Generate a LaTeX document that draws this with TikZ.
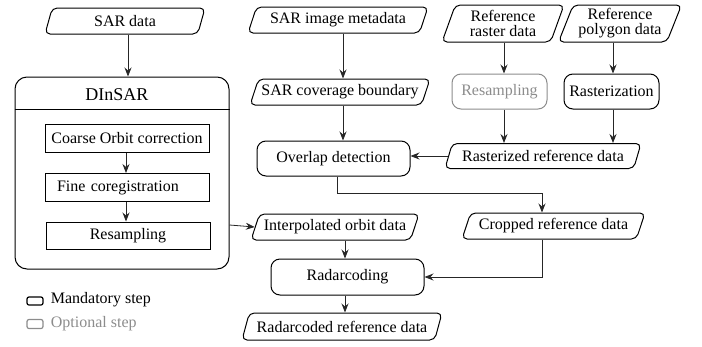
\documentclass[tikz,border=0pt]{standalone}
\usepackage{fontspec}
\setmainfont{Liberation Serif}
\usetikzlibrary{shapes.geometric,arrows.meta}
\definecolor{optgray}{RGB}{140,140,140}
\tikzset{
  data/.style={draw, trapezium, trapezium left angle=68, trapezium right angle=112,
    trapezium stretches body, rounded corners=5pt, minimum height=26pt, inner xsep=2pt},
  stepbox/.style={draw, rounded corners=9pt, minimum width=153pt, minimum height=35pt},
  optbox/.style={stepbox, draw=optgray, text=optgray},
  inbox/.style={draw, minimum width=164pt, minimum height=28pt},
  arr/.style={-{Stealth[length=9pt,width=7pt,inset=3pt]}, line width=0.8pt, black!85}
}
\begin{document}
\begin{tikzpicture}[x=1pt,y=-1pt,line width=1pt,
  font=\fontsize{16}{15}\selectfont]
\useasboundingbox (0,0) rectangle (702,346);

% DInSAR chain
\node[data,minimum width=160pt] (sar) at (125,21) {SAR data};
\node[draw,rounded corners=12pt,minimum width=214pt,minimum height=192pt]
  (dinsar) at (122,173) {};
\node[font=\fontsize{18}{20}\selectfont] (dtitle) at (117,95) {DInSAR};
\draw (dinsar.west |- 0,109) -- (dinsar.east |- 0,109);
\node[inbox] (coarse) at (127,138.5) {Coarse Orbit correction};
\node[inbox,text width=140pt,inner xsep=12pt,align=left] (fine) at (127,187.5) {Fine coregistration};
\node[inbox,minimum height=27pt] (resamp) at (128,235.5) {Resampling};

% SAR geometry
\node[data,minimum width=180pt] (meta) at (338,20) {SAR image metadata};
\node[data,minimum width=180pt] (cover) at (340,92) {SAR coverage boundary};
\node[stepbox] (overlap) at (333.5,158.5) {Overlap detection};
\node[data,minimum width=168pt] (interp) at (335,227) {Interpolated orbit data};
\node[stepbox,minimum height=36pt] (radar) at (347.5,277) {Radarcoding};
\node[data,minimum width=200pt,minimum height=27pt] (radcod) at (342,326.5) {Radarcoded reference data};

% Reference data
\node[data,minimum width=122pt,minimum height=37pt,align=center] (rraster) at (503,23.5) {Reference\\raster data};
\node[data,minimum width=123pt,minimum height=37pt,align=center] (rpoly) at (620,23.5) {Reference\\polygon data};
\node[optbox,minimum width=95pt] (rresamp) at (499.5,91.5) {Resampling};
\node[stepbox,minimum width=95pt] (rasterize) at (611.5,91.5) {Rasterization};
\node[data,minimum width=196pt,minimum height=25pt] (rasterized) at (543,156) {Rasterized reference data};
\node[data,minimum width=183pt] (cropped) at (553.5,226) {Cropped reference data};
\coordinate (bend) at (542,193);

% Legend
\node[draw,rounded corners=2pt,line width=1.2pt,minimum width=16pt,minimum height=8pt,inner sep=0pt] (lmand) at (35,301) {};
\node[draw=optgray,rounded corners=2pt,line width=1.2pt,minimum width=16pt,minimum height=9pt,inner sep=0pt] (lopt) at (35,324) {};
\node[anchor=west] (tmand) at (47,300) {Mandatory step};
\node[anchor=west,text=optgray] (topt) at (47,324) {Optional step};

% Connectors
\draw[arr] ([xshift=3pt]sar.south) -- ([xshift=3pt]sar.south |- dinsar.north);
\draw[arr] (coarse.south -| 126,0) -- (fine.north -| 126,0);
\draw[arr] (fine.south -| 126,0) -- (resamp.north -| 126,0);
\draw[arr] (dinsar.east |- 0,225) -- (interp.west);
\draw[arr] (meta.south -| 343,0) -- (cover.north -| 343,0);
\draw[arr] (cover.south -| 343,0) -- (overlap.north -| 343,0);
\draw[arr] (rraster.south -| 504,0) -- (rresamp.north -| 504,0);
\draw[arr] (rpoly.south -| 613,0) -- (rasterize.north -| 613,0);
\draw[arr] (rresamp.south -| 504,0) -- (rasterized.north -| 504,0);
\draw[arr] (rasterize.south -| 613,0) -- (rasterized.north -| 613,0);
\draw[arr] (rasterized.west) -- (overlap.east |- rasterized.west);
\draw[arr] (overlap.south -| 337,0) |- (bend) -- (bend |- cropped.north);
\draw[arr] (bend |- cropped.south) |- (radar.east);
\draw[arr] (interp.south -| 345,0) -- (radar.north -| 345,0);
\draw[arr] (radar.south -| 345,0) -- (radcod.north -| 345,0);
\end{tikzpicture}
\end{document}
